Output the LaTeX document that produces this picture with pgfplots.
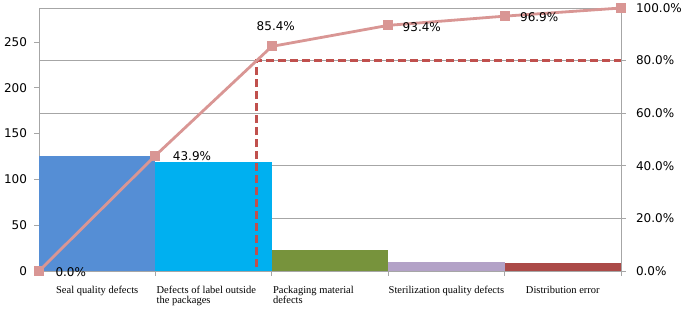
\documentclass[border=0pt]{standalone}
\usepackage{pgfplots}
\pgfplotsset{compat=1.18}
\usepackage{fontspec}
\setmainfont{DejaVu Sans}
\newfontfamily\labfont{Liberation Serif}
\definecolor{gridgray}{HTML}{A6A6A6}
\definecolor{cSeal}{HTML}{558ED5}
\definecolor{cLabel}{HTML}{00B0F0}
\definecolor{cPack}{HTML}{77933C}
\definecolor{cSter}{HTML}{B3A2C7}
\definecolor{cDist}{HTML}{AB4A48}
\definecolor{cCum}{HTML}{D99694}
\definecolor{cDash}{HTML}{C0504D}
\begin{document}
\begin{tikzpicture}
\begin{axis}[
  scale only axis, width=582pt, height=263pt,
  xmin=0, xmax=5, ymin=0, ymax=287,
  axis line style={gridgray, line width=0.8pt},
  ytick={0,50,100,150,200,250},
  ytick pos=left, xtick pos=bottom, tick align=outside,
  major tick length=4.5pt,
  tick style={gridgray, line width=0.8pt},
  /pgf/number format/assume math mode=true,
  yticklabel style={font=\fontsize{12}{14}\selectfont, xshift=-4pt},
  extra y ticks={57.4,114.8,172.2,229.6},
  extra y tick labels={},
  extra y tick style={grid=major, major tick length=0pt},
  major grid style={gridgray, line width=0.8pt},
  xtick={0,1,2,3,4,5},
  xticklabels={},
  extra x ticks={0.5,1.5,2.5,3.5,4.5},
  extra x tick labels={Seal quality defects,
    {\parbox[t]{114pt}{\raggedright Defects of label outside\\ the packages}},
    {\parbox[t]{114pt}{\raggedright Packaging material\\ defects}},
    Sterilization quality defects,
    Distribution error},
  extra x tick style={major tick length=0pt},
  xticklabel style={font=\labfont\fontsize{10.5}{10}\selectfont, anchor=north, yshift=-12pt},
]
\coordinate (bl) at (rel axis cs:0,0);
\coordinate (tr) at (rel axis cs:1,1);
\addplot[fill=cSeal, draw=none] coordinates {(0,126) (1,126)} \closedcycle;
\addplot[fill=cLabel, draw=none] coordinates {(1,119) (2,119)} \closedcycle;
\addplot[fill=cPack, draw=none] coordinates {(2,23) (3,23)} \closedcycle;
\addplot[fill=cSter, draw=none] coordinates {(3,10) (4,10)} \closedcycle;
\addplot[fill=cDist, draw=none] coordinates {(4,9) (5,9)} \closedcycle;
\end{axis}
\begin{axis}[
  scale only axis, width=582pt, height=263pt,
  xmin=0, xmax=5, ymin=0, ymax=100,
  clip=false,
  hide x axis,
  axis y line*=right,
  axis line style={gridgray, line width=0.8pt},
  ytick={0,20,40,60,80,100},
  tick align=outside,
  major tick length=4.5pt,
  tick style={gridgray, line width=0.8pt},
  /pgf/number format/assume math mode=true,
  yticklabel={\pgfmathprintnumber[fixed,fixed zerofill,precision=1]{\tick}\%},
  yticklabel style={font=\fontsize{12}{14}\selectfont, xshift=7pt},
]
\addplot[cDash, line width=2.6pt, dash pattern=on 8pt off 4pt] coordinates {(1.87,1.5) (1.87,80) (5,80)};
\addplot[cCum, line width=2.8pt, mark=square*, mark size=3.6pt, mark options={solid}] coordinates {
  (0,0) (1,43.9) (2,85.4) (3,93.4) (4,96.9) (5,100)};
\node[anchor=west, font=\fontsize{12}{14}\selectfont] at ([xshift=13pt,yshift=-1.5pt]axis cs:0,0) {0.0\%};
\node[anchor=west, font=\fontsize{12}{14}\selectfont] at ([xshift=14pt,yshift=-0.5pt]axis cs:1,43.9) {43.9\%};
\node[anchor=center, font=\fontsize{12}{14}\selectfont] at ([xshift=4pt,yshift=20.5pt]axis cs:2,85.4) {85.4\%};
\node[anchor=west, font=\fontsize{12}{14}\selectfont] at ([xshift=11pt,yshift=-1.5pt]axis cs:3,93.4) {93.4\%};
\node[anchor=west, font=\fontsize{12}{14}\selectfont] at ([xshift=12pt,yshift=-1pt]axis cs:4,96.9) {96.9\%};
\end{axis}
\pgfresetboundingbox
\path[use as bounding box] ([shift={(-39pt,-38pt)}]bl) rectangle ([shift={(64pt,8pt)}]tr);
\end{tikzpicture}
\end{document}
